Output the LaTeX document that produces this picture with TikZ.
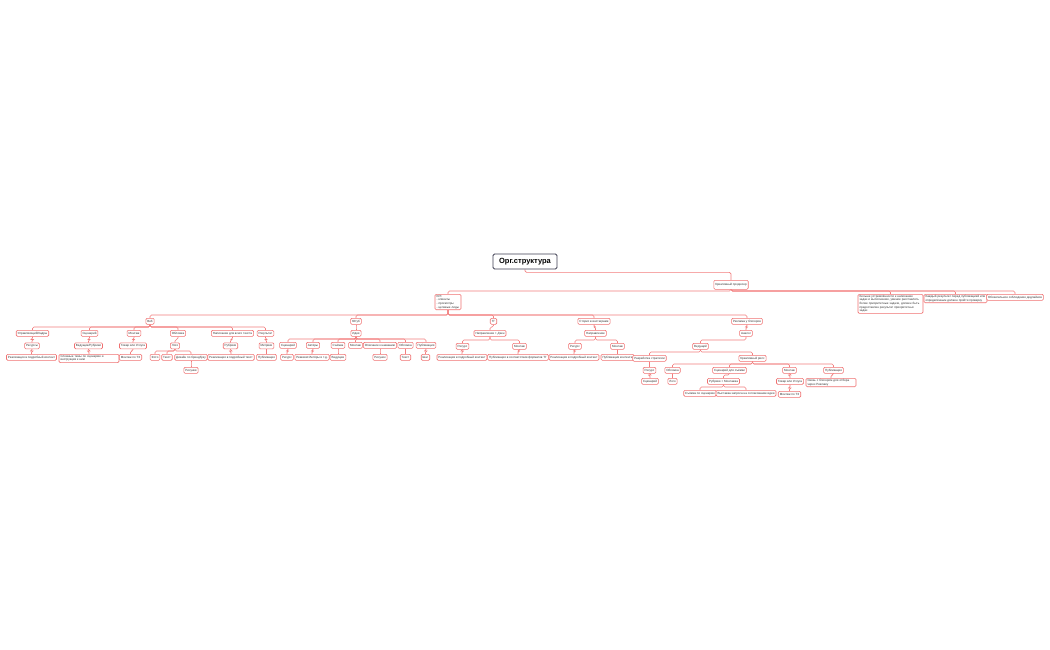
\documentclass[tikz,border=0pt]{standalone}
\usepackage{fontspec}
\setmainfont{Liberation Sans}
\usetikzlibrary{backgrounds}
\definecolor{bd}{RGB}{240,112,112}
\definecolor{ln}{RGB}{242,125,125}
\definecolor{tx}{RGB}{50,50,50}
\definecolor{rootbd}{RGB}{60,60,80}
\tikzset{
 bx/.style={draw=bd, line width=0.6pt, fill=white, rounded corners=1.2pt, inner xsep=1.5pt, inner ysep=1pt, font=\fontsize{3}{3.6}\selectfont, text=tx, anchor=north, minimum height=6pt},
 ml/.style={bx, align=left, text width=#1},
 conn/.style={draw=ln, line width=0.6pt, rounded corners=1.5pt},
}
\newcommand\lnk[2]{\draw[conn] (#1.south) |- ([yshift=3pt]#2.north) -- (#2.north);}
\begin{document}
\begin{tikzpicture}[x=1pt,y=-1pt]
\useasboundingbox (0,0) rectangle (1050,650);
% root
\node[draw=rootbd, line width=0.8pt, rounded corners=1.5pt, fill=white, minimum width=64pt, minimum height=15pt, font=\fontsize{7.5}{9}\selectfont\bfseries, text=black] (root) at (525,261.5) {Орг.структура};
\node[bx, minimum height=9pt] (kp) at (731,280) {Креативный продюсер};
% level 1
\node[ml=23pt] (bpe) at (448,294) {KPI:\\- клиенты\\- просмотры\\- целевые лиды};
\node[ml=62pt] (n1) at (890.5,294) {Больше устремлённости к написанию задач и выполнению, умение расставлять более приоритетные задачи, должен быть предоставлен результат приоритетных задач};
\node[ml=60pt] (n2) at (955.5,294) {Каждый результат перед публикацией или определённым должен пройти проверку};
\node[bx] (n3) at (1015,294) {Обязательное соблюдение дедлайнов};
% level 2
\node[bx] (web) at (150,318) {Веб};
\node[bx] (vk) at (356,318) {Ютуб};
\node[bx] (tg) at (493.5,318) {ТГ};
\node[bx] (ig) at (594,318) {Сторис в инстаграме};
\node[bx] (rk) at (747,318) {Реклама у блогеров};
% web
\node[bx] (w1) at (32.5,330) {Управляющий/Кадры};
\node[bx] (w2) at (89.5,330) {Сценарий};
\node[bx] (w3) at (134,330) {Монтаж};
\node[bx] (w4) at (178,330) {Обложка};
\node[bx] (w5) at (232.5,330) {Написание для всего текста};
\node[bx] (w6) at (265.5,330) {Результат};
\node[bx] (w1a) at (32,342.5) {Ресурсы};
\node[bx] (w2a) at (88.5,342.5) {Ведущие/Рубрики};
\node[bx] (w3a) at (133,342.5) {Товар или Услуга};
\node[bx] (w4a) at (175,342.5) {Лого};
\node[bx] (w5a) at (230.5,342.5) {Рубрики};
\node[bx] (w6a) at (266.5,342.5) {Метрики};
\node[bx] (w1b) at (31.5,354) {Реализация в подробный контент};
\node[ml=57pt] (w2b) at (89,354) {Сложные темы по сценарию и инструкция к ним};
\node[bx] (w3b) at (130.5,354) {Монтаж по ТЗ};
\node[bx] (w4b1) at (155,354) {Фото};
\node[bx] (w4b2) at (167,354) {Текст};
\node[bx] (w4b3) at (191,354) {Дизайн по брендбуку};
\node[bx] (w4c) at (191,367) {Рисунки};
\node[bx] (w5b) at (231,354) {Реализация в подробный текст};
\node[bx] (w6b) at (266.5,354) {Публикация};
% youtube
\node[bx] (yi) at (356,330) {Идея};
\node[bx] (y1) at (288,342) {Сценарий};
\node[bx] (y2) at (313,342) {Актёры};
\node[bx] (y3) at (338,342) {Съёмка};
\node[bx] (y4) at (355.5,342) {Монтаж};
\node[bx] (y5) at (380,342) {Описание к названию};
\node[bx] (y6) at (405.5,342) {Обложка};
\node[bx] (y7) at (426,342) {Публикация};
\node[bx] (y1a) at (287,354) {Ресурс};
\node[bx] (y2a) at (312,354) {Реквизит/Актёры и т.д.};
\node[bx] (y3a) at (338,354) {Ведущие};
\node[bx] (y5a) at (380,354) {Рисунок};
\node[bx] (y6a) at (405.5,354) {Текст};
\node[bx] (y7a) at (425.5,354) {Шаг};
% tg
\node[bx] (t1) at (490,330) {Направление + Дзен};
\node[bx] (t2a) at (462.5,343) {Ресурс};
\node[bx] (t2b) at (519.5,343) {Монтаж};
\node[bx] (t3a) at (462,354) {Реализация в подробный контент};
\node[bx] (t3b) at (518,354) {Публикация в соответствии форматов ТГ};
% instagram
\node[bx] (i1) at (595.5,330) {Направление};
\node[bx] (i2a) at (575,343) {Ресурс};
\node[bx] (i2b) at (617.5,343) {Монтаж};
\node[bx] (i3a) at (574,354) {Реализация в подробный контент};
\node[bx] (i3b) at (617.5,354) {Публикация контента};
% reklama
\node[bx] (r1) at (746,330) {Аналог};
\node[bx] (r2) at (700.5,343) {Ведущий};
\node[bx] (r3a) at (649.5,355) {Разработка стратегии};
\node[bx] (r3b) at (752.5,355) {Креативный рилс};
\node[bx] (r4) at (649.5,367) {Ресурс};
\node[bx] (r5) at (650,378) {Сценарий};
\node[bx] (c1) at (672.5,367) {Обложка};
\node[bx] (c2) at (729.5,367) {Сценарий для съёмки};
\node[bx] (c3) at (789.5,367) {Монтаж};
\node[bx] (c4) at (833.5,367) {Публикация};
\node[bx] (c1a) at (672.5,378) {Лого};
\node[bx] (c2a) at (723.5,378) {Рубрики + Монтажка};
\node[bx] (c2b1) at (700,390) {Съёмка по сценарию};
\node[bx] (c2b2) at (746,390) {Выставка запроса на согласование идеи};
\node[bx] (c3a) at (790,378) {Товар или Услуга};
\node[bx] (c3b) at (789.5,391) {Монтаж по ТЗ};
\node[ml=47pt] (c4a) at (831,378) {Связь с блогером для отбора через Рекламу};
% connectors
\begin{scope}[on background layer]
\draw[conn] (root.south) -- ++(0,3) -| (kp.north);
\foreach \c in {bpe,n1,n2,n3} {\lnk{kp}{\c}}
\foreach \c in {web,vk,tg,ig,rk} {\lnk{bpe}{\c}}
\foreach \c in {w1,w2,w3,w4,w5,w6} {\lnk{web}{\c}}
\lnk{w1}{w1a}\lnk{w2}{w2a}\lnk{w3}{w3a}\lnk{w4}{w4a}\lnk{w5}{w5a}\lnk{w6}{w6a}
\lnk{w1a}{w1b}\lnk{w2a}{w2b}\lnk{w3a}{w3b}
\foreach \c in {w4b1,w4b2,w4b3} {\lnk{w4a}{\c}}
\lnk{w4b3}{w4c}\lnk{w5a}{w5b}\lnk{w6a}{w6b}
\lnk{vk}{yi}
\foreach \c in {y1,y2,y3,y4,y5,y6,y7} {\lnk{yi}{\c}}
\lnk{y1}{y1a}\lnk{y2}{y2a}\lnk{y3}{y3a}\lnk{y5}{y5a}\lnk{y6}{y6a}\lnk{y7}{y7a}
\lnk{tg}{t1}\lnk{t1}{t2a}\lnk{t1}{t2b}\lnk{t2a}{t3a}\lnk{t2b}{t3b}
\lnk{ig}{i1}\lnk{i1}{i2a}\lnk{i1}{i2b}\lnk{i2a}{i3a}\lnk{i2b}{i3b}
\lnk{rk}{r1}\lnk{r1}{r2}\lnk{r2}{r3a}\lnk{r2}{r3b}\lnk{r3a}{r4}\lnk{r4}{r5}
\foreach \c in {c1,c2,c3,c4} {\lnk{r3b}{\c}}
\lnk{c1}{c1a}\lnk{c2}{c2a}\lnk{c2a}{c2b1}\lnk{c2a}{c2b2}\lnk{c3}{c3a}\lnk{c3a}{c3b}\lnk{c4}{c4a}
\end{scope}
\end{tikzpicture}
\end{document}
